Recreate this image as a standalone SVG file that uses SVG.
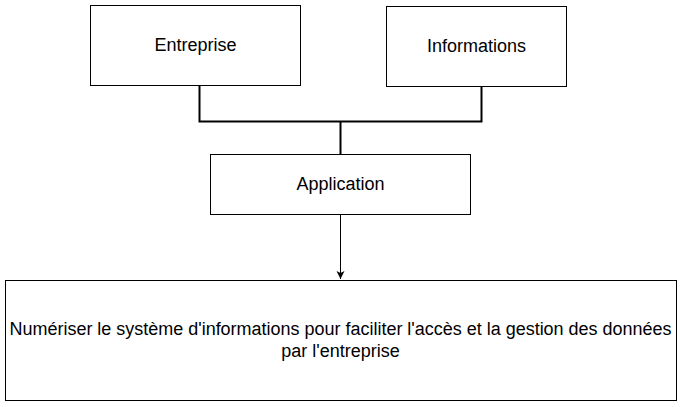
<svg xmlns="http://www.w3.org/2000/svg" width="682" height="407" viewBox="0 0 682 407">
<style>
.box{fill:#fff;stroke:#000;stroke-width:1}
.t{font-family:"Liberation Sans",Arial,sans-serif;font-size:18px;fill:#000;text-anchor:middle;dominant-baseline:central}
.c{fill:none;stroke:#000;stroke-width:2}
.a{fill:none;stroke:#000;stroke-width:1}
</style>
<defs>
<marker id="arr" markerWidth="10" markerHeight="10" refX="8" refY="4" orient="auto" markerUnits="userSpaceOnUse">
<path d="M0,0 L8,4 L0,8 L2,4 Z" fill="#000"/>
</marker>
</defs>
<rect width="682" height="407" fill="#fff"/>
<g id="connectors">
<path class="c" d="M199.5,85 V121.5 H481.5 V86"/>
<path class="c" d="M340.5,121.5 V154"/>
<path class="a" d="M340.5,214 V279" marker-end="url(#arr)"/>
</g>
<g id="entreprise">
<rect class="box" x="90.5" y="5.5" width="210" height="80"/>
<text class="t" x="195.5" y="44.5">Entreprise</text>
</g>
<g id="informations">
<rect class="box" x="386.5" y="6.5" width="180" height="80"/>
<text class="t" x="476.5" y="45.5">Informations</text>
</g>
<g id="application">
<rect class="box" x="210.5" y="154.5" width="260" height="60"/>
<text class="t" x="340.5" y="183.5">Application</text>
</g>
<g id="objectif">
<rect class="box" x="5.5" y="280.5" width="671" height="120"/>
<text class="t" x="340.5" y="329" textLength="662" lengthAdjust="spacingAndGlyphs">Numériser le système d'informations pour faciliter l'accès et la gestion des données</text>
<text class="t" x="340.5" y="351">par l'entreprise</text>
</g>
</svg>
